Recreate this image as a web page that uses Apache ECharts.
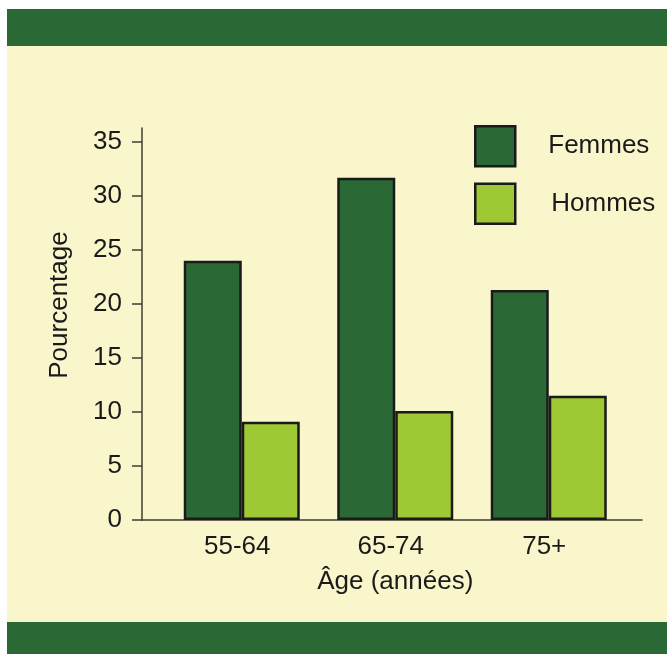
<!DOCTYPE html>
<html>
<head>
<meta charset="utf-8">
<script src="https://cdn.jsdelivr.net/npm/echarts@6/dist/echarts.min.js"></script>
<style>
  html, body { margin: 0; padding: 0; background: #ffffff; }
  #chart { width: 667px; height: 654px; }
</style>
</head>
<body>
<div id="chart"></div>
<script>
// Age groups and percentages by sex
const categories = ['55-64', '65-74', '75+'];
const femmes = [24.0, 31.7, 21.3];
const hommes = [9.1, 10.1, 11.5];
const yTicks = [0, 5, 10, 15, 20, 25, 30, 35];

const DARK = '#2a6835';
const LIGHT = '#9ec935';
const CREAM = '#f9f6cb';
const INK = '#1a1a1a';
const AXIS = '#3f3c30';
const FONT = '"Liberation Sans", Arial, sans-serif';

const chart = echarts.init(document.getElementById('chart'), null, { renderer: 'canvas' });

chart.setOption({
  backgroundColor: '#ffffff',
  animation: false,
  textStyle: { fontFamily: FONT, color: INK },
  graphic: [
    { type: 'rect', z: -10, shape: { x: 7, y: 9, width: 660, height: 37 }, style: { fill: DARK } },
    { type: 'rect', z: -10, shape: { x: 7, y: 46, width: 660, height: 576 }, style: { fill: CREAM } },
    { type: 'rect', z: -10, shape: { x: 7, y: 622, width: 660, height: 32 }, style: { fill: DARK } },
    {
      type: 'text', x: 60, y: 305, rotation: Math.PI / 2,
      style: {
        text: 'Pourcentage', fill: INK, font: '26px ' + FONT,
        align: 'center', verticalAlign: 'middle'
      }
    }
  ],
  legend: {
    orient: 'vertical',
    left: 469, top: 120,
    itemWidth: 40, itemHeight: 40, itemGap: 15,
    icon: 'rect',
    itemStyle: { borderColor: INK, borderWidth: 2.5 },
    textStyle: { fontSize: 26, color: INK, fontFamily: FONT },
    data: [
      { name: 'Femmes', textStyle: { padding: [0, 0, 4, 28] } },
      { name: 'Hommes', textStyle: { padding: [0, 0, 3, 31] } }
    ]
  },
  grid: [
    // axis frame
    { left: 142, right: 25, top: 128, bottom: 134 },
    // bar area
    { left: 165, right: 41.5, top: 128, bottom: 134 }
  ],
  xAxis: [
    {
      type: 'value', gridIndex: 0, min: 0, max: 1,
      axisLine: { show: true, lineStyle: { color: AXIS, width: 1.5 } },
      axisTick: { show: false }, axisLabel: { show: false }, splitLine: { show: false }
    },
    {
      type: 'category', gridIndex: 1, data: categories,
      axisLine: { show: false }, axisTick: { show: false },
      axisLabel: { fontSize: 26, color: INK, margin: 14, padding: [0, 9, 0, 0] },
      name: 'Âge (années)', nameLocation: 'middle', nameGap: 49,
      nameTextStyle: { fontSize: 26, color: INK }
    }
  ],
  yAxis: [
    {
      type: 'value', gridIndex: 0, min: 0, max: 36.3,
      axisLine: { show: true, lineStyle: { color: AXIS, width: 1.5 } },
      axisTick: { show: true, inside: false, length: 10, customValues: yTicks, lineStyle: { color: AXIS, width: 1.5 } },
      axisLabel: { customValues: yTicks, fontSize: 26, color: INK, margin: 20, padding: [4, 0, 0, 0] },
      splitLine: { show: false }
    },
    {
      type: 'value', gridIndex: 1, min: 0, max: 36.3, show: false,
      splitLine: { show: false }
    }
  ],
  series: [
    {
      name: 'Femmes', type: 'bar', xAxisIndex: 1, yAxisIndex: 1,
      data: femmes, barWidth: 58, barGap: '0%',
      itemStyle: { color: DARK, borderColor: INK, borderWidth: 2.5 }
    },
    {
      name: 'Hommes', type: 'bar', xAxisIndex: 1, yAxisIndex: 1,
      data: hommes, barWidth: 58, barGap: '0%',
      itemStyle: { color: LIGHT, borderColor: INK, borderWidth: 2.5 }
    }
  ]
});
</script>
</body>
</html>
